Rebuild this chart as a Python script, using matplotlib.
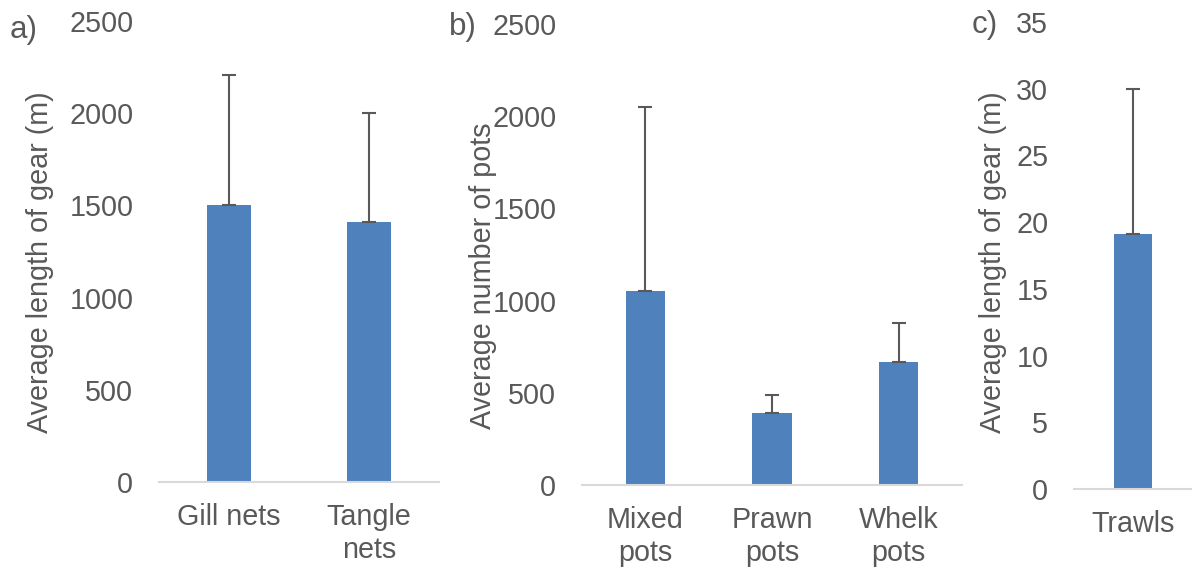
import matplotlib
matplotlib.use("Agg")
import matplotlib.pyplot as plt

# ---- data ----
cats_a = ["Gill nets", "Tangle\nnets"]
vals_a = [1500, 1410]
err_a = [706, 590]

cats_b = ["Mixed\npots", "Prawn\npots", "Whelk\npots"]
vals_b = [1052, 392, 665]
err_b = [997, 96, 211]

cats_c = ["Trawls"]
vals_c = [19.1]
err_c = [10.9]

yticks_a = [0, 500, 1000, 1500, 2000, 2500]
yticks_b = [0, 500, 1000, 1500, 2000, 2500]
yticks_c = [0, 5, 10, 15, 20, 25, 30, 35]

# ---- style ----
plt.rcParams['font.family'] = ['Liberation Sans', 'DejaVu Sans']
TXT = "#595959"
BAR = "#4F81BD"
AX = "#D9D9D9"
FS = 20.7

W, H = 1192, 570
fig = plt.figure(figsize=(W / 100, H / 100), dpi=100)


def px_axes(left, right, bottom, top):
    return fig.add_axes([left / W, (H - bottom) / H, (right - left) / W, (bottom - top) / H])


def draw(ax, cats, vals, errs, yticks, width):
    x = list(range(len(cats)))
    ax.bar(x, vals, width=width, color=BAR, zorder=2)
    ax.errorbar(x, vals, yerr=[[0] * len(errs), errs], fmt='none', ecolor=TXT,
                elinewidth=1.5, capsize=4.7, capthick=1.5, zorder=3)
    ax.set_xlim(-0.5, len(cats) - 0.5)
    ax.set_ylim(yticks[0], yticks[-1])
    ax.set_yticks(yticks)
    ax.set_yticklabels([str(t) for t in yticks])
    ax.set_xticks(x)
    ax.set_xticklabels(cats, linespacing=1.22)
    for s in ["left", "right", "top"]:
        ax.spines[s].set_visible(False)
    ax.spines["bottom"].set_color(AX)
    ax.spines["bottom"].set_linewidth(1.5)
    ax.tick_params(axis='y', length=0, pad=18.5, labelsize=FS, labelcolor=TXT)
    ax.tick_params(axis='x', length=0, pad=15, labelsize=FS, labelcolor=TXT)
    ax.set_facecolor("none")


ax_a = px_axes(159, 439, 482, 21)
draw(ax_a, cats_a, vals_a, err_a, yticks_a, 0.31)
ax_b = px_axes(582, 962, 485, 24)
draw(ax_b, cats_b, vals_b, err_b, yticks_b, 0.31)
ax_c = px_axes(1074, 1192, 489, 22)
draw(ax_c, cats_c, vals_c, err_c, yticks_c, 0.32)


def ftext(x, y, s, size=FS, **kw):
    fig.text(x / W, 1 - y / H, s, fontsize=size, color=TXT, **kw)


ftext(40, 262, "Average length of gear (m)", rotation=90, ha='center', va='center')
ftext(483, 276, "Average number of pots", rotation=90, ha='center', va='center')
ftext(993, 262, "Average length of gear (m)", rotation=90, ha='center', va='center')

ftext(10, 30, "a)", size=22.5, ha='left', va='center')
ftext(449, 27, "b)", size=22.5, ha='left', va='center')
ftext(972, 25, "c)", size=22.5, ha='left', va='center')

fig.savefig("out.png", dpi=100)
